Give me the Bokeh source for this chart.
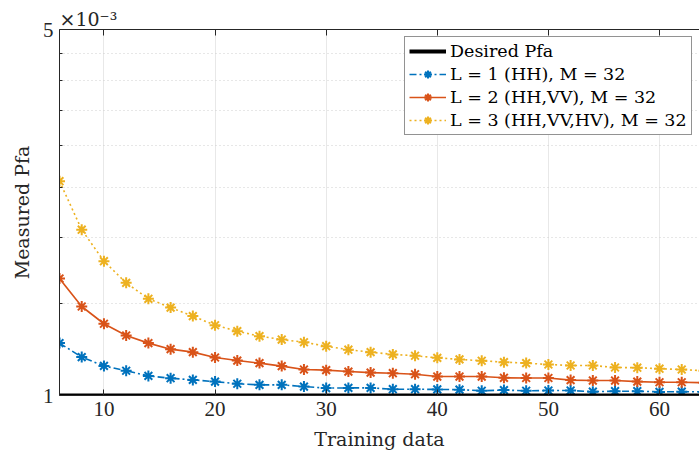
from bokeh.plotting import figure
from bokeh.models import (FixedTicker, Legend, LegendItem, LinearAxis, Title,
                          BasicTickFormatter, CustomJSTickFormatter, Range1d)
from bokeh.embed import file_html
from bokeh.resources import INLINE

# Training data sizes (K)
training = [6, 8, 10, 12, 14, 16, 18, 20, 22, 24, 26, 28, 30, 32, 34, 36,
            38, 40, 42, 44, 46, 48, 50, 52, 54, 56, 58, 60, 62, 64]

# Measured Pfa, in units of 1e-3
pfa_l1 = [1.259, 1.184, 1.139, 1.115, 1.090, 1.079, 1.071, 1.063, 1.053, 1.048,
          1.048, 1.040, 1.033, 1.034, 1.034, 1.028, 1.028, 1.027, 1.026, 1.021,
          1.024, 1.021, 1.022, 1.022, 1.017, 1.019, 1.019, 1.016, 1.017, 1.016]
pfa_l2 = [1.673, 1.479, 1.371, 1.302, 1.259, 1.226, 1.210, 1.182, 1.166, 1.153,
          1.138, 1.121, 1.118, 1.111, 1.106, 1.103, 1.098, 1.087, 1.087, 1.087,
          1.081, 1.080, 1.080, 1.070, 1.068, 1.068, 1.063, 1.060, 1.060, 1.058]
pfa_l3 = [2.566, 2.073, 1.805, 1.641, 1.530, 1.472, 1.418, 1.362, 1.327, 1.298,
          1.279, 1.264, 1.242, 1.223, 1.210, 1.198, 1.191, 1.180, 1.172, 1.165,
          1.158, 1.153, 1.146, 1.141, 1.141, 1.131, 1.130, 1.125, 1.121, 1.115]
desired_pfa = 1.0

labels = ["Desired Pfa",
          "L = 1 (HH), M = 32",
          "L = 2 (HH,VV), M = 32",
          "L = 3 (HH,VV,HV), M = 32"]

x_ticks = [10, 20, 30, 40, 50, 60]
y_ticks = [1, 5]
y_minor = [1.5, 2, 2.5, 3, 3.5, 4, 4.5]

TICK_FONT = "Liberation Serif"
FONT = "DejaVu Serif"
AX = "#262626"

p = figure(width=699, height=459, y_axis_type="log",
           x_range=Range1d(6, 63.6), y_range=Range1d(1, 5),
           output_backend="svg", toolbar_location=None,
           min_border_left=59, min_border_right=0,
           min_border_top=29, min_border_bottom=64)
p.outline_line_color = None
p.background_fill_color = "white"

# exponent shown above the y axis
p.title = Title(text="×10⁻³", align="left", text_font=FONT,
                text_font_size="19px", text_font_style="normal",
                text_color=AX, standoff=0, offset=0)

# axes
xa = p.xaxis[0]
xa.ticker = FixedTicker(ticks=x_ticks)
ya = p.yaxis[0]
ya.ticker = FixedTicker(ticks=y_ticks, minor_ticks=y_minor)
ya.formatter = BasicTickFormatter()
for ax in (xa, ya):
    ax.axis_line_color = AX
    ax.major_tick_line_color = AX
    ax.minor_tick_line_color = AX
    ax.major_tick_in = 6
    ax.major_tick_out = 0
    ax.minor_tick_in = 3
    ax.minor_tick_out = 0
    ax.major_label_text_font = TICK_FONT
    ax.major_label_text_font_size = "21px"
    ax.major_label_text_color = AX
    ax.axis_label_text_font = FONT
    ax.axis_label_text_font_size = "19px"
    ax.axis_label_text_font_style = "normal"
    ax.axis_label_text_color = AX
xa.minor_tick_line_color = None
xa.axis_label = "Training data"
ya.axis_label = "Measured Pfa"
xa.major_label_standoff = 6
xa.axis_label_standoff = 9
ya.major_label_standoff = 6
ya.axis_label_standoff = 7

top = LinearAxis(ticker=FixedTicker(ticks=x_ticks),
                 formatter=CustomJSTickFormatter(code="return ''"),
                 axis_line_color=AX, major_tick_line_color=AX,
                 major_tick_in=6, major_tick_out=0, minor_tick_line_color=None,
                 major_label_standoff=0)
p.add_layout(top, "above")

# grid
p.xgrid.grid_line_color = "#e8e8e8"
p.xgrid.ticker = FixedTicker(ticks=x_ticks)
p.ygrid.grid_line_color = "#e8e8e8"
p.ygrid.minor_grid_line_color = "#cfcfcf"
p.ygrid.minor_grid_line_dash = "1 3"

colors = ["#0072BD", "#D95319", "#EDB120"]
dashes = ["7 3 2 3", "solid", "2 3"]
series = [pfa_l1, pfa_l2, pfa_l3]

items = []
r_des = p.line([training[0], training[-1]], [desired_pfa, desired_pfa],
               line_color="black", line_width=4)
items.append(LegendItem(label=labels[0], renderers=[r_des]))

for ys, c, d, lab in zip(series, colors, dashes, labels[1:]):
    rl = p.line(training, ys, line_color=c, line_width=1.6, line_dash=d)
    rs = p.scatter(training, ys, marker="asterisk", size=11,
                   line_color=c, line_width=2)
    items.append(LegendItem(label=lab, renderers=[rl, rs]))

# draw the desired level on top of the series
p.renderers.append(p.renderers.pop(0))

legend = Legend(items=items, location=(345, 260),
                label_text_font=FONT, label_text_font_size="17.5px",
                label_text_color="black",
                glyph_width=37, glyph_height=20, label_standoff=4,
                label_height=20, spacing=3, padding=4, margin=0,
                border_line_color=AX, border_line_width=1,
                background_fill_color="white", background_fill_alpha=1)
p.add_layout(legend, "center")

open("out.html", "w").write(file_html(p, INLINE))
